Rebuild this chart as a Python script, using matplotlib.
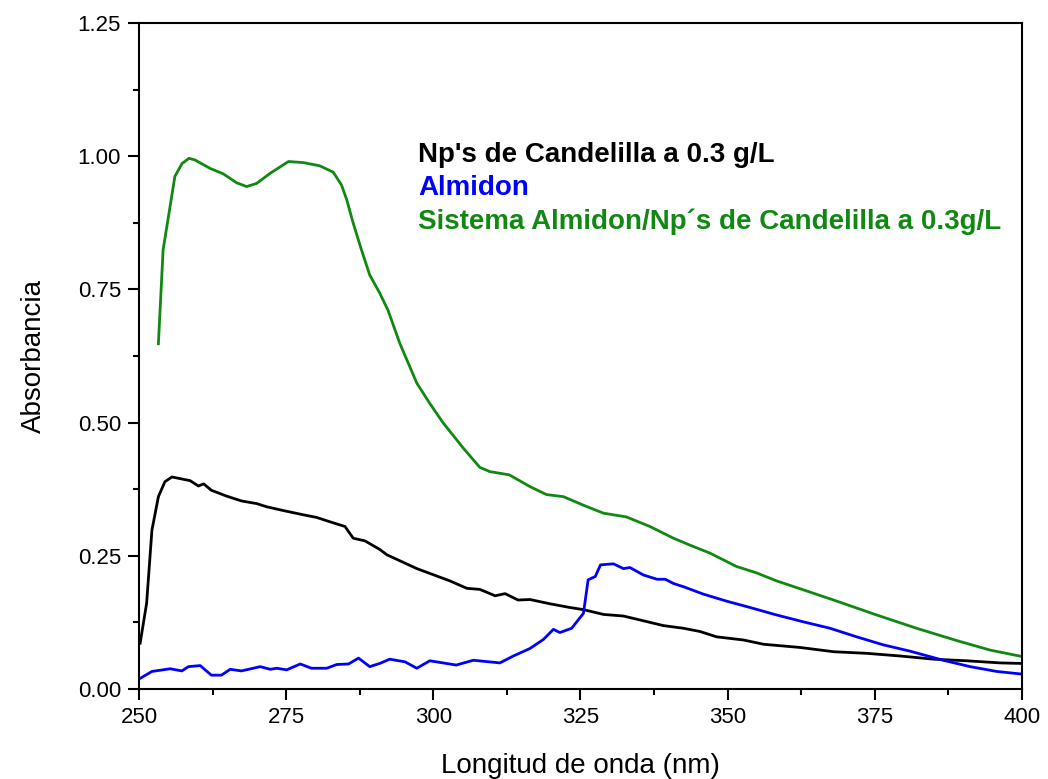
import matplotlib.pyplot as plt
from matplotlib.ticker import MultipleLocator

plt.rcParams['font.family'] = ['Liberation Sans', 'DejaVu Sans']

# --- spectra ---
np_x = [250.2, 251.3, 252.2, 253.3, 254.4, 255.6, 258.7, 260.1, 261.0, 262.3, 264.9, 267.4,
        270.0, 271.7, 274.5, 277.9, 280.2, 282.4, 285.0, 286.4, 288.4, 290.9, 292.1, 297.2,
        299.4, 302.8, 305.7, 307.9, 310.5, 312.2, 314.4, 316.4, 319.8, 323.2, 325.5, 328.9,
        332.3, 335.7, 339.1, 342.5, 345.3, 348.1, 352.7, 356.1, 362.3, 368.0, 373.6, 379.3,
        385.0, 390.6, 396.3, 400.0]
np_y = [0.086, 0.161, 0.298, 0.361, 0.389, 0.398, 0.391, 0.381, 0.385, 0.373, 0.362, 0.353,
        0.348, 0.342, 0.335, 0.327, 0.322, 0.314, 0.305, 0.283, 0.278, 0.262, 0.252, 0.226,
        0.217, 0.203, 0.189, 0.187, 0.175, 0.179, 0.167, 0.168, 0.160, 0.153, 0.149, 0.140,
        0.137, 0.128, 0.119, 0.114, 0.108, 0.098, 0.092, 0.084, 0.078, 0.070, 0.067, 0.062,
        0.056, 0.053, 0.049, 0.048]

alm_x = [250.2, 252.2, 255.3, 257.3, 258.4, 260.4, 262.3, 264.0, 265.5, 267.4, 270.6, 272.3,
         273.4, 275.1, 277.4, 279.3, 281.9, 283.6, 285.6, 287.3, 289.2, 290.9, 292.6, 295.2,
         297.2, 299.4, 303.9, 306.8, 311.3, 313.6, 316.4, 318.7, 320.4, 321.5, 323.5, 325.5,
         326.3, 327.5, 328.4, 330.6, 332.3, 333.4, 335.7, 338.0, 339.4, 340.8, 342.5, 345.9,
         349.8, 353.8, 358.3, 362.9, 367.4, 371.9, 376.4, 381.0, 386.6, 391.2, 395.7, 400.0]
alm_y = [0.020, 0.033, 0.038, 0.034, 0.042, 0.044, 0.026, 0.026, 0.037, 0.034, 0.042, 0.037,
         0.039, 0.036, 0.047, 0.039, 0.039, 0.046, 0.047, 0.058, 0.042, 0.048, 0.056, 0.051,
         0.039, 0.053, 0.045, 0.054, 0.049, 0.062, 0.076, 0.093, 0.112, 0.106, 0.114, 0.142,
         0.205, 0.211, 0.233, 0.235, 0.226, 0.228, 0.214, 0.206, 0.206, 0.198, 0.192, 0.178,
         0.165, 0.153, 0.139, 0.126, 0.114, 0.098, 0.083, 0.071, 0.054, 0.042, 0.033, 0.028]

sis_x = [253.3, 254.1, 256.1, 257.3, 258.5, 259.5, 262.1, 264.3, 266.6, 268.3, 270.0, 272.3,
         275.4, 277.9, 280.7, 283.0, 284.4, 285.3, 286.4, 287.8, 289.2, 290.9, 292.3, 294.3,
         297.2, 299.4, 301.7, 305.1, 307.9, 309.6, 312.9, 316.4, 319.2, 322.1, 325.5, 328.9,
         332.8, 336.8, 340.8, 343.6, 347.0, 351.5, 354.9, 358.3, 362.9, 368.0, 375.3, 382.1,
         388.9, 394.6, 400.0]
sis_y = [0.648, 0.824, 0.962, 0.986, 0.996, 0.993, 0.977, 0.967, 0.950, 0.943, 0.949, 0.968,
         0.990, 0.988, 0.982, 0.970, 0.946, 0.918, 0.874, 0.824, 0.777, 0.743, 0.711, 0.649,
         0.574, 0.536, 0.499, 0.452, 0.416, 0.408, 0.402, 0.380, 0.365, 0.361, 0.345, 0.330,
         0.323, 0.305, 0.283, 0.270, 0.255, 0.230, 0.218, 0.203, 0.186, 0.167, 0.139, 0.114,
         0.091, 0.073, 0.061]

labels = ["Np's de Candelilla a 0.3 g/L", "Almidon", "Sistema Almidon/Np\u00b4s de Candelilla a 0.3g/L"]
colors = ["black", "#0000ff", "#118811"]

fig = plt.figure(figsize=(10.48, 7.79), dpi=100)
ax = fig.add_axes([0.1326, 0.1155, 0.8426, 0.855])

ax.plot(np_x, np_y, color=colors[0], lw=2.0, solid_joinstyle='round')
ax.plot(alm_x, alm_y, color=colors[1], lw=2.0, solid_joinstyle='round')
ax.plot(sis_x, sis_y, color=colors[2], lw=2.0, solid_joinstyle='round')

ax.set_xlim(250, 400)
ax.set_ylim(0, 1.25)
ax.xaxis.set_major_locator(MultipleLocator(25))
ax.xaxis.set_minor_locator(MultipleLocator(12.5))
ax.yaxis.set_major_locator(MultipleLocator(0.25))
ax.yaxis.set_minor_locator(MultipleLocator(0.125))
ax.yaxis.set_major_formatter(lambda v, p: f"{v:.2f}")
ax.tick_params(which='major', direction='out', length=8, width=1.5, labelsize=16, pad=5)
ax.tick_params(which='minor', direction='out', length=4.5, width=1.5)
for s in ax.spines.values():
    s.set_linewidth(1.5)

ax.set_xlabel("Longitud de onda (nm)", fontsize=20, labelpad=18)
ax.set_ylabel("Absorbancia", fontsize=20, labelpad=22)

# legend written as coloured text lines
for i, (lab, c) in enumerate(zip(labels, colors)):
    ax.text(0.316, 0.802 - i * 0.050, lab, color=c, fontsize=20, fontweight='bold',
            transform=ax.transAxes, va='center', ha='left')

fig.savefig("out.png", dpi=100)
